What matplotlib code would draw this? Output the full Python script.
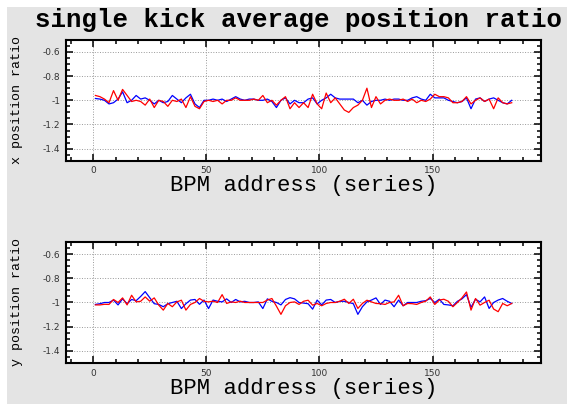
import matplotlib
matplotlib.use("Agg")
import matplotlib.pyplot as plt
from matplotlib.patches import Rectangle
from matplotlib.ticker import MultipleLocator, FormatStrFormatter

# BPM index, every second address
bpm = list(range(1, 186, 2))

# horizontal (x) ratio
x_blue = [-0.985, -0.99, -1.0, -1.03, -1.02, -0.99, -0.93, -1.02, -1.0, -0.96,
          -0.99, -0.98, -1.0, -1.03, -1.0, -1.02, -1.01, -0.96, -0.99, -1.02,
          -0.98, -0.95, -1.03, -1.06, -1.0, -1.0, -0.99, -1.0, -0.99, -1.01,
          -0.99, -0.97, -0.99, -1.0, -0.99, -0.99, -1.0, -1.0, -0.99, -1.01,
          -1.06, -1.0, -0.98, -1.03, -1.0, -1.02, -1.02, -0.99, -0.98, -1.03,
          -1.0, -0.98, -0.95, -0.98, -0.99, -0.99, -0.99, -0.99, -1.02, -1.0,
          -1.04, -1.01, -1.0, -1.0, -0.99, -1.0, -0.99, -0.99, -1.0, -1.0,
          -0.98, -0.97, -0.99, -1.0, -0.95, -0.98, -0.98, -0.98, -1.0, -1.01,
          -1.02, -1.01, -0.98, -1.07, -0.99, -0.98, -1.01, -0.99, -0.98, -1.0,
          -1.02, -1.03, -1.0]
x_red = [-0.96, -0.97, -0.99, -1.02, -0.92, -1.0, -0.91, -0.96, -1.01, -1.0,
         -1.01, -1.04, -0.99, -1.06, -1.0, -1.01, -1.05, -1.0, -1.01, -0.99,
         -1.06, -0.97, -1.05, -1.07, -1.01, -1.0, -1.01, -1.0, -1.03, -1.0,
         -1.0, -0.98, -1.0, -1.0, -1.0, -0.99, -1.0, -0.96, -1.02, -1.0,
         -1.04, -1.0, -0.97, -1.07, -1.02, -1.06, -1.02, -1.06, -0.95, -1.03,
         -1.07, -0.94, -1.02, -0.98, -1.03, -1.08, -1.10, -1.06, -1.04, -1.0,
         -0.9, -1.06, -0.97, -1.03, -1.0, -0.99, -1.0, -1.0, -0.99, -1.01,
         -0.99, -1.02, -1.0, -1.01, -0.99, -0.95, -0.97, -0.97, -0.98, -1.02,
         -1.02, -1.01, -0.97, -1.03, -1.0, -0.98, -1.01, -0.99, -1.07, -0.98,
         -1.02, -1.03, -1.02]

# vertical (y) ratio
y_blue = [-1.016, -1.01, -1.0, -1.0, -0.98, -1.02, -0.97, -1.01, -0.975, -0.985,
          -0.95, -0.91, -0.96, -1.01, -1.016, -1.035, -1.01, -1.0, -0.99, -1.05,
          -1.01, -0.98, -0.975, -1.015, -0.98, -1.05, -0.98, -0.99, -0.995, -0.97,
          -1.0, -0.975, -0.995, -0.99, -1.0, -1.0, -0.995, -1.05, -0.97, -0.99,
          -1.0, -1.02, -0.975, -0.96, -0.97, -1.0, -1.005, -1.01, -1.055, -0.98,
          -1.02, -0.98, -0.975, -1.0, -0.99, -0.99, -1.0, -1.01, -1.098, -1.035,
          -0.995, -0.98, -0.962, -1.016, -0.98, -0.99, -1.035, -0.98, -1.027, -1.0,
          -1.0, -1.0, -0.99, -0.985, -0.967, -1.0, -0.973, -1.016, -1.02, -1.027,
          -0.99, -0.97, -0.935, -1.04, -0.973, -0.995, -0.954, -1.049, -1.0, -0.98,
          -0.967, -0.99, -1.008]
y_red = [-1.02, -1.02, -1.015, -1.016, -0.975, -1.0, -0.962, -1.02, -0.94, -0.995,
         -0.99, -0.954, -0.989, -0.962, -1.022, -1.063, -1.008, -1.035, -0.995, -0.981,
         -1.063, -1.016, -1.0, -0.967, -0.99, -0.995, -0.989, -1.0, -0.935, -1.008,
         -0.995, -1.0, -0.989, -1.0, -1.0, -1.0, -1.0, -1.0, -0.98, -0.967,
         -1.03, -1.098, -1.027, -1.0, -0.995, -1.016, -0.99, -0.981, -1.022, -1.008,
         -1.027, -1.008, -1.0, -1.0, -0.99, -0.973, -1.008, -0.973, -1.049, -1.008,
         -0.981, -0.995, -1.008, -1.01, -1.016, -1.0, -0.995, -0.94, -1.027, -1.008,
         -1.01, -1.016, -1.0, -0.989, -0.954, -1.016, -0.98, -0.973, -0.99, -1.035,
         -1.0, -0.962, -0.913, -1.063, -0.967, -1.022, -1.0, -0.981, -1.054, -1.076,
         -1.008, -1.027, -1.008]

mono = "Liberation Mono"

fig = plt.figure(figsize=(5.67, 4.04), dpi=100, facecolor="white")
fig.patches.append(Rectangle((7 / 567, 0), 1, 1 - 7 / 404, transform=fig.transFigure,
                             facecolor="#e4e4e4", edgecolor="none", zorder=-10))

ax1 = fig.add_axes([0.1164, 0.602, 0.838, 0.2995])
ax2 = fig.add_axes([0.1164, 0.1015, 0.838, 0.2995])

for ax, blue, red, lab in [(ax1, x_blue, x_red, "x position ratio"),
                           (ax2, y_blue, y_red, "y position ratio")]:
    ax.plot(bpm, blue, color="blue", lw=0.9)
    ax.plot(bpm, red, color="red", lw=0.9)
    ax.set_xlim(-12, 198)
    ax.set_ylim(-1.5, -0.5)
    ax.xaxis.set_major_locator(MultipleLocator(50))
    ax.xaxis.set_minor_locator(MultipleLocator(10))
    ax.yaxis.set_major_locator(MultipleLocator(0.2))
    ax.yaxis.set_minor_locator(MultipleLocator(0.05))
    ax.yaxis.set_major_formatter(FormatStrFormatter("%g"))
    ax.set_yticks([-0.6, -0.8, -1.0, -1.2, -1.4])
    ax.tick_params(which="both", direction="in", top=True, right=True,
                   labelsize=6.5, labelcolor="#333333", width=1.1)
    ax.tick_params(which="major", length=5, pad=4)
    ax.tick_params(which="minor", length=3)
    ax.grid(True, which="major", linestyle=":", color="#999999", lw=0.7)
    for s in ax.spines.values():
        s.set_linewidth(1.5)
    ax.set_xlabel("BPM address (series)", family=mono, fontsize=16, labelpad=0)
    ax.set_ylabel(lab, family=mono, fontsize=9.5, labelpad=14)

fig.suptitle("single kick average position ratio", family=mono, fontsize=18.5,
             fontweight="bold", x=0.527, y=0.98)

fig.savefig("out.png", dpi=100)
